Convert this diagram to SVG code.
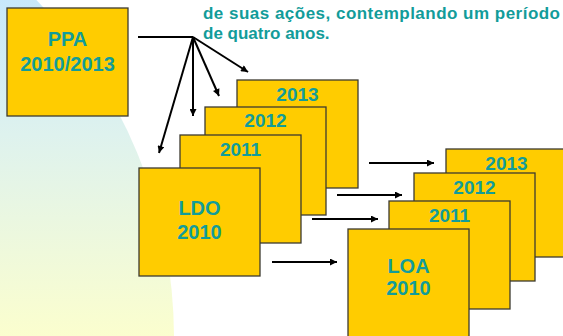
<svg xmlns="http://www.w3.org/2000/svg" width="563" height="336" viewBox="0 0 563 336">
<defs>
<linearGradient id="bg" x1="0" y1="0" x2="0" y2="336" gradientUnits="userSpaceOnUse">
<stop offset="0" stop-color="#c8e8fb"/>
<stop offset="0.4" stop-color="#def2ee"/>
<stop offset="1" stop-color="#fbfece"/>
</linearGradient>
<marker id="ah" viewBox="0 0 10 10" refX="10" refY="5" markerWidth="8" markerHeight="7" markerUnits="userSpaceOnUse" orient="auto">
<path d="M0,0 L10,5 L0,10 Z" fill="#000"/>
</marker>
<style>
.box{fill:#FFCC00;stroke:#3d3b30;stroke-width:1.3}
.lbl{font-family:"Liberation Sans",Arial,sans-serif;font-weight:bold;fill:#129C9A;text-anchor:middle}
.big{font-size:20px}
.yr{font-size:19px}
.line{stroke:#000;stroke-width:2;fill:none}
.arr{stroke:#000;stroke-width:2;fill:none;marker-end:url(#ah)}
.para{font-family:"Liberation Sans",Arial,sans-serif;font-weight:bold;font-size:17px;fill:#129C9A}
</style>
</defs>
<rect width="563" height="336" fill="#fff"/>
<circle cx="-310" cy="338" r="484" fill="url(#bg)"/>
<text class="para" x="203" y="19" textLength="357" lengthAdjust="spacing">de suas ações, contemplando um período</text>
<text class="para" x="203" y="39">de quatro anos.</text>
<g id="connectors">
<line class="line" x1="138" y1="37" x2="193" y2="37"/>
<line class="arr" x1="193" y1="37" x2="159" y2="153"/>
<line class="arr" x1="193" y1="37" x2="193" y2="116"/>
<line class="arr" x1="193" y1="37" x2="219" y2="96"/>
<line class="arr" x1="193" y1="37" x2="248" y2="72"/>
<line class="arr" x1="369" y1="163" x2="434" y2="163"/>
<line class="arr" x1="337" y1="195" x2="402" y2="195"/>
<line class="arr" x1="312" y1="219" x2="378" y2="219"/>
<line class="arr" x1="272" y1="262" x2="337" y2="262"/>
</g>
<g id="ppa">
<rect class="box" x="7" y="8" width="121" height="108"/>
<text class="lbl big" x="67.5" y="46">PPA</text>
<text class="lbl big" x="67.5" y="71">2010/2013</text>
</g>
<g id="ldo-2013">
<rect class="box" x="237" y="80" width="121" height="108"/>
<text class="lbl yr" x="297.5" y="101">2013</text>
</g>
<g id="ldo-2012">
<rect class="box" x="205" y="107" width="121" height="108"/>
<text class="lbl yr" x="265.5" y="127">2012</text>
</g>
<g id="ldo-2011">
<rect class="box" x="180" y="135" width="121" height="108"/>
<text class="lbl yr" x="240.5" y="156">2011</text>
</g>
<g id="ldo-2010">
<rect class="box" x="139" y="168" width="121" height="108"/>
<text class="lbl big" x="199.5" y="215">LDO</text>
<text class="lbl big" x="199.5" y="239">2010</text>
</g>
<g id="loa-2013">
<rect class="box" x="446" y="149" width="121" height="108"/>
<text class="lbl yr" x="506.5" y="170">2013</text>
</g>
<g id="loa-2012">
<rect class="box" x="414" y="173" width="121" height="108"/>
<text class="lbl yr" x="474.5" y="194">2012</text>
</g>
<g id="loa-2011">
<rect class="box" x="389" y="201" width="121" height="108"/>
<text class="lbl yr" x="449.5" y="222">2011</text>
</g>
<g id="loa-2010">
<rect class="box" x="348" y="229" width="121" height="108"/>
<text class="lbl big" x="408.5" y="273">LOA</text>
<text class="lbl big" x="408.5" y="295">2010</text>
</g>
</svg>
